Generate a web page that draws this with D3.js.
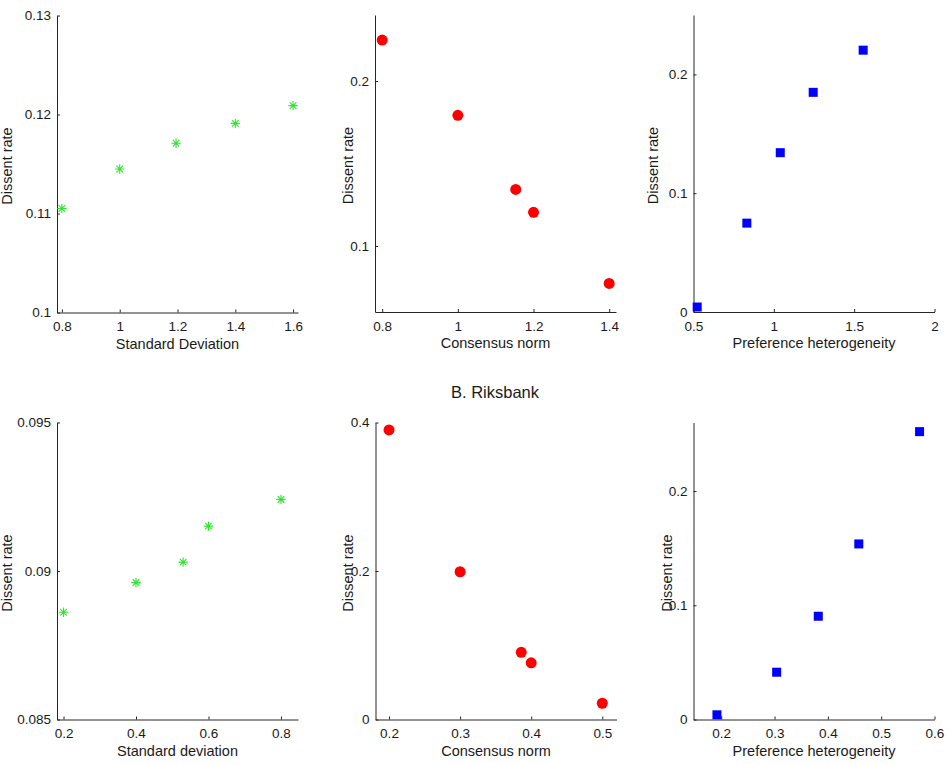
<!DOCTYPE html>
<html>
<head>
<meta charset="utf-8">
<script src="https://cdn.jsdelivr.net/npm/d3@7"></script>
<style>
  body { margin: 0; background: #fff; }
  svg { display: block; font-family: "Liberation Sans", Arial, Helvetica, sans-serif; }
</style>
</head>
<body>
<div id="chart"></div>
<script>
// top row values
var sdTop = [0.8, 1.0, 1.195, 1.4, 1.6]
var sdTopRate = [0.1105, 0.1145, 0.1171, 0.1191, 0.1209]
var normTop = [0.8, 1.0, 1.153, 1.2, 1.4]
var normTopRate = [0.2248, 0.1792, 0.1343, 0.1204, 0.0773]
var hetTop = [0.523, 0.832, 1.04, 1.245, 1.556]
var hetTopRate = [0.0042, 0.0748, 0.1341, 0.1849, 0.2204]

// B. Riksbank
var sdRiks = [0.2, 0.4, 0.53, 0.6, 0.8]
var sdRiksRate = [0.08861, 0.08961, 0.0903, 0.09151, 0.09241]
var normRiks = [0.2, 0.3, 0.386, 0.4, 0.5]
var normRiksRate = [0.390, 0.199, 0.0905, 0.0763, 0.0219]
var hetRiks = [0.192, 0.304, 0.382, 0.458, 0.572]
var hetRiksRate = [0.0041, 0.0414, 0.0904, 0.1537, 0.252]

var topXTicks = [[0.8, 1, 1.2, 1.4, 1.6], [0.8, 1, 1.2, 1.4], [0.5, 1, 1.5, 2]]
var topYTicks = [[0.1, 0.11, 0.12, 0.13], [0.1, 0.2], [0, 0.1, 0.2]]
var riksXTicks = [[0.2, 0.4, 0.6, 0.8], [0.2, 0.3, 0.4, 0.5], [0.2, 0.3, 0.4, 0.5, 0.6]]
var riksYTicks = [[0.085, 0.09, 0.095], [0, 0.2, 0.4], [0, 0.1, 0.2]]

var width = 950
var height = 765

var svg = d3.select('#chart')
  .append('svg')
  .attr('width', width)
  .attr('height', height)

var panels = [
  { left: 57, top: 15.5, xd: [0.783, 1.617], yd: [0.1, 0.13], xs: sdTop, ys: sdTopRate,
    xt: topXTicks[0], yt: topYTicks[0], xl: 'Standard Deviation', ylx: 7, mark: 'star' },
  { left: 375, top: 15, xd: [0.781, 1.418], yd: [0.06, 0.24], xs: normTop, ys: normTopRate,
    xt: topXTicks[1], yt: topYTicks[1], xl: 'Consensus norm', ylx: 348, mark: 'dot' },
  { left: 693.5, top: 15, xd: [0.5, 2], yd: [0, 0.25], xs: hetTop, ys: hetTopRate,
    xt: topXTicks[2], yt: topYTicks[2], xl: 'Preference heterogeneity', ylx: 653, mark: 'square' },
  { left: 57, top: 422.5, xd: [0.182, 0.847], yd: [0.085, 0.095], xs: sdRiks, ys: sdRiksRate,
    xt: riksXTicks[0], yt: riksYTicks[0], xl: 'Standard deviation', ylx: 7, mark: 'star' },
  { left: 375.5, top: 422.5, xd: [0.181, 0.52], yd: [0, 0.4], xs: normRiks, ys: normRiksRate,
    xt: riksXTicks[1], yt: riksYTicks[1], xl: 'Consensus norm', ylx: 348, mark: 'dot' },
  { left: 693.5, top: 422.5, xd: [0.148, 0.6], yd: [0, 0.26], xs: hetRiks, ys: hetRiksRate,
    xt: riksXTicks[2], yt: riksYTicks[2], xl: 'Preference heterogeneity', ylx: 667, mark: 'square' },
]

var pw = 241
var ph = 297
var axisColor = '#262626'

// matlab style asterisk: plus and cross
function starPath(r) {
  var d = r * Math.SQRT1_2
  return 'M' + (-r) + ',0L' + r + ',0M0,' + (-r) + 'L0,' + r +
    'M' + (-d) + ',' + (-d) + 'L' + d + ',' + d +
    'M' + (-d) + ',' + d + 'L' + d + ',' + (-d)
}

panels.forEach(function(p) {
  var g = svg.append('g')
    .attr('transform', 'translate(' + p.left + ',' + p.top + ')')

  var x = d3.scaleLinear().domain(p.xd).range([0, pw])
  var y = d3.scaleLinear().domain(p.yd).range([ph, 0])

  var xAxis = g.append('g')
    .attr('transform', 'translate(0,' + ph + ')')
    .call(d3.axisBottom(x).tickValues(p.xt).tickSizeInner(-3).tickSizeOuter(0).tickPadding(6)
      .tickFormat(d3.format('~g')))
  var yAxis = g.append('g')
    .call(d3.axisLeft(y).tickValues(p.yt).tickSizeInner(-3).tickSizeOuter(0).tickPadding(6)
      .tickFormat(d3.format('~g')))

  ;[xAxis, yAxis].forEach(function(a) {
    a.select('.domain').attr('stroke', axisColor).attr('stroke-width', 1)
    a.selectAll('.tick line').attr('stroke', axisColor)
    a.selectAll('.tick text')
      .attr('fill', '#1a1a1a')
      .style('font-size', '13.5px')
      .style('font-family', '"Liberation Sans", Arial, sans-serif')
  })
  xAxis.selectAll('.tick text').attr('dy', '0.95em')

  // axis labels
  svg.append('text')
    .attr('x', p.left + pw / 2)
    .attr('y', p.top + ph + 36)
    .attr('text-anchor', 'middle')
    .attr('fill', '#1a1a1a')
    .style('font-size', '14.5px')
    .text(p.xl)

  svg.append('text')
    .attr('transform', 'translate(' + (p.ylx + 5) + ',' + (p.top + ph / 2 + 2) + ') rotate(-90)')
    .attr('text-anchor', 'middle')
    .attr('fill', '#1a1a1a')
    .style('font-size', '14.5px')
    .text('Dissent rate')

  var pts = p.xs.map(function(v, i) { return { x: v, y: p.ys[i] } })

  if (p.mark === 'star') {
    g.selectAll('.pt').data(pts).enter()
      .append('path')
      .attr('transform', function(d) { return 'translate(' + x(d.x) + ',' + y(d.y) + ')' })
      .attr('d', starPath(4.7))
      .attr('fill', 'none')
      .attr('stroke', '#2ee82e')
      .attr('stroke-width', 1.1)
  } else if (p.mark === 'dot') {
    g.selectAll('.pt').data(pts).enter()
      .append('circle')
      .attr('cx', function(d) { return x(d.x) })
      .attr('cy', function(d) { return y(d.y) })
      .attr('r', 5.5)
      .attr('fill', '#ff0000')
  } else {
    g.selectAll('.pt').data(pts).enter()
      .append('rect')
      .attr('x', function(d) { return x(d.x) - 4.5 })
      .attr('y', function(d) { return y(d.y) - 4.5 })
      .attr('width', 9)
      .attr('height', 9)
      .attr('fill', '#0000ff')
  }
})

svg.append('text')
  .attr('x', 495)
  .attr('y', 398)
  .attr('text-anchor', 'middle')
  .attr('fill', '#1a1a1a')
  .style('font-size', '16.5px')
  .text('B. Riksbank')
</script>
</body>
</html>
